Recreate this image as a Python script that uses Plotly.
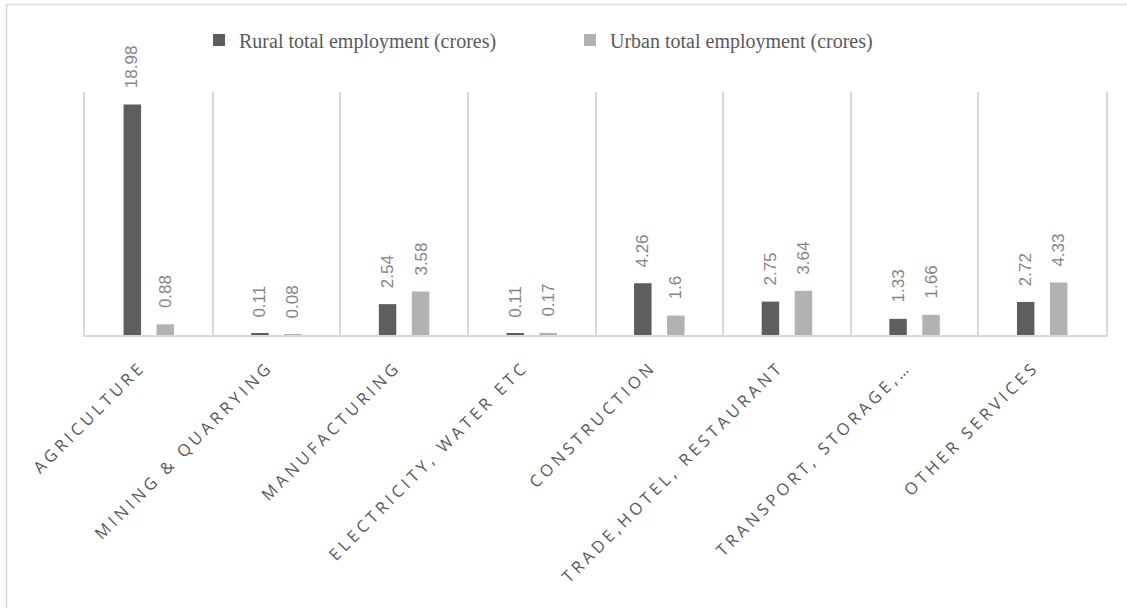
import plotly.graph_objects as go

categories = ["AGRICULTURE", "MINING & QUARRYING", "MANUFACTURING", "ELECTRICITY, WATER ETC",
              "CONSTRUCTION", "TRADE,HOTEL, RESTAURANT", "TRANSPORT, STORAGE,…", "OTHER SERVICES"]
rural = [18.98, 0.11, 2.54, 0.11, 4.26, 2.75, 1.33, 2.72]
urban = [0.88, 0.08, 3.58, 0.17, 1.6, 3.64, 1.66, 4.33]
rural_name = "Rural total employment (crores)"
urban_name = "Urban total employment (crores)"

RURAL_C = "#5e5e5e"
URBAN_C = "#b2b2b2"
GRID_C = "#d9d9d9"
LABEL_C = "#858585"

W, H = 1127, 608
L, R, T, B = 85, 21, 92, 273
PW, PH = W - L - R, H - T - B

fig = go.Figure()
fig.add_trace(go.Bar(x=categories, y=rural, name=rural_name, marker=dict(color=RURAL_C, line_width=0)))
fig.add_trace(go.Bar(x=categories, y=urban, name=urban_name, marker=dict(color=URBAN_C, line_width=0)))

annotations = []
for series, shift in ((rural, -16.5), (urban, 16.5)):
    for c, v in zip(categories, series):
        annotations.append(dict(x=c, y=v, xref="x", yref="y", text=f"{v:g}", showarrow=False,
                                textangle=-90, xanchor="center", yanchor="bottom",
                                xshift=shift, yshift=14,
                                font=dict(family="Liberation Sans", size=17, color=LABEL_C)))

def px_x(p):
    return (p - L) / PW

def px_y(p):
    return (H - B - p) / PH

fig.update_layout(
    width=W, height=H,
    margin=dict(l=L, r=R, t=T, b=B, autoexpand=False),
    paper_bgcolor="white", plot_bgcolor="white",
    barmode="group", bargap=0.483, bargroupgap=0.47,
    showlegend=True,
    legend=dict(orientation="h", x=px_x(199), y=px_y(40), xanchor="left", yanchor="middle",
                font=dict(family="Liberation Serif", size=20, color="#595959"),
                entrywidth=326, entrywidthmode="pixels", bgcolor="rgba(0,0,0,0)"),
    xaxis=dict(type="category", tickson="boundaries", showgrid=True, gridcolor=GRID_C, gridwidth=1.5,
               showline=True, linecolor=GRID_C, linewidth=1.5, ticks="", tickangle=-45,
               tickfont=dict(family="Open Sans", size=16.5, color="#595959"),
               ticklabelstandoff=14, ticklabelshift=-8),
    yaxis=dict(range=[0, 20], visible=True, showticklabels=False, ticks="", showgrid=False,
               zeroline=False, showline=True, mirror=True, linecolor=GRID_C, linewidth=1.5),
    annotations=annotations,
    shapes=[dict(type="rect", xref="paper", yref="paper", x0=px_x(6.5), x1=px_x(1150),
                 y0=px_y(640), y1=px_y(4.5), line=dict(color=GRID_C, width=1.5), layer="below")],
)

post = """
document.body.style.margin = '0';
document.body.style.padding = '0';
var gd = document.getElementById('{plot_id}');
gd.querySelectorAll('.xtick text').forEach(function(t){ t.style.letterSpacing = '3.8px'; });
"""
fig.write_html("out.html", post_script=post, config={"displayModeBar": False})
